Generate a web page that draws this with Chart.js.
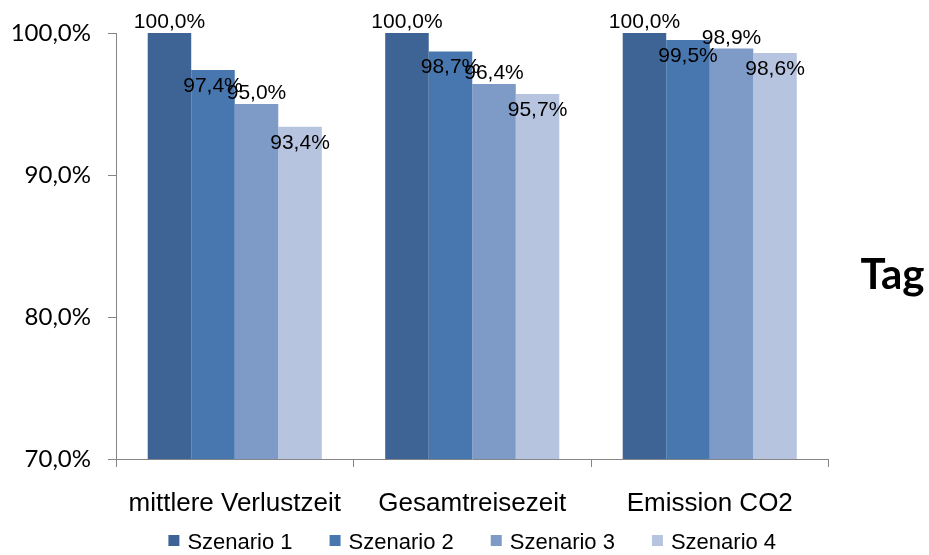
<!DOCTYPE html>
<html lang="de">
<head>
    <meta charset="UTF-8">
    <title>Szenarien Tag</title>
    <script src="https://cdn.jsdelivr.net/npm/chart.js"></script>
    <style>
        html, body { margin: 0; padding: 0; background: #fff; }
        #wrap { width: 929px; height: 555px; }
    </style>
</head>
<body>
<div id="wrap"><canvas id="chart" width="929" height="555"></canvas></div>
<script>
    // Data
    const categories = ['mittlere Verlustzeit', 'Gesamtreisezeit', 'Emission CO2'];
    const seriesNames = ['Szenario 1', 'Szenario 2', 'Szenario 3', 'Szenario 4'];
    const szenario1 = [100.0, 100.0, 100.0];
    const szenario2 = [97.4, 98.7, 99.5];
    const szenario3 = [95.0, 96.4, 98.9];
    const szenario4 = [93.4, 95.7, 98.6];
    const yTicks = [70, 80, 90, 100];
    const sideLabel = 'Tag';

    const colors = ['#3D6495', '#4877AF', '#7E9BC8', '#B6C4E0'];
    const axisColor = '#868686';
    const arial = '"Liberation Sans", Arial, sans-serif';

    const fmt = v => v.toFixed(1).replace('.', ',') + '%';

    // value labels: Excel put them alternately above / just inside the bar tops
    const barLabels = {
        id: 'barLabels',
        afterDatasetsDraw(chart) {
            const ctx = chart.ctx;
            ctx.save();
            ctx.font = '21px ' + arial;
            ctx.fillStyle = '#000';
            ctx.textAlign = 'center';
            ctx.textBaseline = 'alphabetic';
            chart.data.datasets.forEach((ds, di) => {
                const meta = chart.getDatasetMeta(di);
                meta.data.forEach((bar, i) => {
                    const y = di % 2 === 0 ? bar.y - 5 : bar.y + 22;
                    ctx.fillText(fmt(ds.data[i]), bar.x, y);
                });
            });
            ctx.restore();
        }
    };

    // legend row under the axis labels, centred on the plot area
    const bottomLegend = {
        id: 'bottomLegend',
        afterDraw(chart) {
            const ctx = chart.ctx;
            const area = chart.chartArea;
            const box = 11, gap = 8, spacing = 37, baseline = 549;
            ctx.save();
            ctx.font = '22px ' + arial;
            ctx.textBaseline = 'alphabetic';
            ctx.textAlign = 'left';
            const items = chart.data.datasets.map(ds => ({
                text: ds.label, color: ds.backgroundColor, w: ctx.measureText(ds.label).width
            }));
            const total = items.reduce((s, it) => s + box + gap + it.w, 0) + spacing * (items.length - 1);
            let x = (area.left + area.right) / 2 - total / 2;
            items.forEach(it => {
                ctx.fillStyle = it.color;
                ctx.fillRect(x, baseline - 14, box, box);
                ctx.fillStyle = '#000';
                ctx.fillText(it.text, x + box + gap, baseline);
                x += box + gap + it.w + spacing;
            });
            ctx.restore();
        }
    };

    const sideTitle = {
        id: 'sideTitle',
        afterDraw(chart) {
            const ctx = chart.ctx;
            ctx.save();
            ctx.font = 'bold 42px Lato, "Open Sans", sans-serif';
            ctx.fillStyle = '#000';
            ctx.textAlign = 'left';
            ctx.textBaseline = 'alphabetic';
            ctx.fillText(sideLabel, chart.chartArea.right + 32, 289);
            ctx.restore();
        }
    };

    new Chart(document.getElementById('chart'), {
        type: 'bar',
        data: {
            labels: categories,
            datasets: [szenario1, szenario2, szenario3, szenario4].map((d, i) => ({
                label: seriesNames[i],
                data: d,
                backgroundColor: colors[i],
                borderWidth: 0,
                barPercentage: 1.0,
                categoryPercentage: 0.733
            }))
        },
        options: {
            responsive: false,
            animation: false,
            devicePixelRatio: 1,
            layout: { padding: { top: 33, right: 100.5, left: 0, bottom: 0 } },
            plugins: {
                tooltip: { enabled: false },
                legend: { display: false }
            },
            scales: {
                x: {
                    grid: { display: true, drawOnChartArea: false, offset: true, tickLength: 8, color: axisColor },
                    border: { display: true, color: axisColor },
                    ticks: {
                        padding: 21,
                        color: '#000',
                        maxRotation: 0,
                        font: { family: arial, size: 26 }
                    },
                    afterFit: s => { s.height = 96; }
                },
                y: {
                    min: 70,
                    max: 100,
                    afterBuildTicks: s => { s.ticks = yTicks.map(v => ({ value: v })); },
                    grid: { display: true, drawOnChartArea: false, tickLength: 8, color: axisColor },
                    border: { display: true, color: axisColor },
                    ticks: {
                        padding: 17,
                        color: '#000',
                        font: { family: 'Lato, "Open Sans", sans-serif', size: 24 },
                        callback: v => fmt(v)
                    },
                    afterFit: s => { s.width = 116; }
                }
            }
        },
        plugins: [barLabels, bottomLegend, sideTitle]
    });
</script>
</body>
</html>
